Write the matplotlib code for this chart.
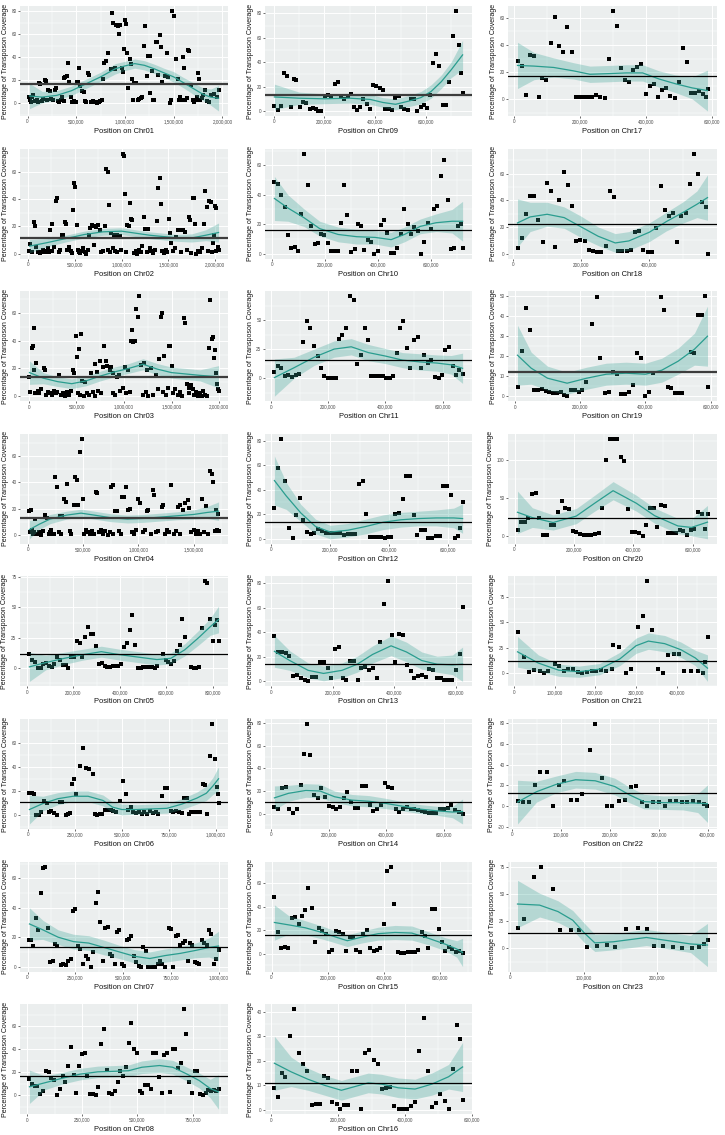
import numpy as np
import matplotlib.pyplot as plt
from matplotlib.ticker import FuncFormatter

plt.rcParams['font.family'] = ['Liberation Sans', 'DejaVu Sans']

# points are (position in kb, percentage of transposon coverage)
# smooth curves are (position in kb, fitted value, standard error band)

chr01_points = [(20, 6), (30, 3), (40, 1.5), (50, 6), (60, 7.5), (80, 2), (95, 3), (110, 1), (120, 18), (133, 17),
                (145, 2), (160, 4), (177, 20), (187, 19.5), (200, 3), (210, 12), (227, 11), (245, 4), (260, 3),
                (277, 12), (293, 13), (310, 2), (325, 1), (340, 3), (353, 6), (370, 2), (377, 22), (387, 23),
                (403, 24), (417, 35), (427, 19), (443, 6), (460, 1), (480, 2), (500, 1), (510, 19), (520, 19),
                (527, 31), (537, 15), (560, 11), (577, 10), (590, 2), (605, 1), (620, 26), (633, 25), (650, 1),
                (670, 2), (690, 1), (710, 0), (730, 1), (745, 2), (760, 3), (777, 21), (787, 35), (803, 37),
                (827, 44), (853, 30), (867, 78.5), (880, 70), (893, 30), (900, 31), (910, 68), (927, 67), (937, 60),
                (947, 68), (967, 31), (977, 27), (987, 47), (997, 72.5), (1010, 69), (1020, 44), (1033, 13),
                (1050, 38.5), (1060, 34), (1070, 21), (1080, 3), (1093, 18), (1110, 18), (1130, 3), (1145, 4),
                (1160, 5), (1175, 6), (1193, 50), (1210, 67), (1227, 24), (1233, 41.5), (1253, 41.5), (1260, 9),
                (1273, 28), (1285, 3), (1300, 3), (1320, 53), (1327, 53), (1343, 25), (1360, 59), (1370, 49),
                (1383, 19), (1410, 24), (1427, 44), (1437, 23), (1460, 0), (1470, 3), (1487, 80), (1500, 75.5),
                (1520, 38.5), (1543, 21), (1553, 3), (1567, 6), (1577, 3), (1593, 40), (1603, 31), (1617, 3),
                (1633, 4.5), (1650, 46), (1660, 45), (1677, 16), (1693, 3), (1710, 1.5), (1727, 3), (1743, 6),
                (1753, 26.7), (1760, 21), (1770, 3), (1787, 4.5), (1800, 7.5), (1820, 12), (1840, 2), (1860, 1),
                (1887, 7.5), (1910, 8), (1943, 6), (1960, 12)]
chr01_smooth = [(20, 6.5, 11), (150, 5.5, 5), (300, 7, 4), (450, 11, 4), (600, 17, 4), (750, 23, 4), (900, 30, 4.5),
                (1000, 32.5, 4), (1100, 34.5, 4), (1200, 33, 4), (1300, 30, 4), (1400, 26.5, 4), (1500, 23, 4.5),
                (1600, 18, 4.5), (1700, 13, 5), (1800, 8, 5.5), (1880, 5.5, 7), (1960, 4.5, 11)]

chr02_points = [(15, 2), (22, 7), (40, 1), (59, 23), (74, 20), (90, 5), (110, 1), (130, 0.5), (150, 1.5), (165, 3),
                (180, 1), (200, 2), (215, 4), (225, 1), (237, 17), (252, 22), (260, 2), (275, 5), (296, 39),
                (311, 41), (330, 1), (345, 2.5), (363, 14), (374, 14), (393, 23), (407, 22), (420, 3), (440, 5),
                (455, 2), (470, 0.5), (481, 32), (496, 52), (507, 49), (519, 21), (530, 3), (545, 1), (560, 0.5),
                (575, 2), (590, 4), (605, 1.5), (620, 0), (640, 2.5), (652, 14), (667, 19), (689, 21), (704, 20),
                (710, 6), (726, 19.5), (748, 21), (767, 17), (780, 1), (800, 2), (819, 20), (837, 62), (852, 60),
                (860, 3), (867, 36), (880, 1.5), (889, 15), (905, 4), (919, 14), (935, 2), (950, 1), (956, 14),
                (978, 13), (990, 3), (1011, 73.5), (1022, 72), (1037, 44), (1050, 1), (1063, 21), (1078, 20.5),
                (1093, 37.5), (1104, 25.5), (1115, 24.5), (1130, 0.5), (1150, 2), (1170, 0), (1190, 3), (1210, 1),
                (1222, 5.5), (1237, 27), (1252, 18), (1270, 1.5), (1281, 18), (1300, 4), (1320, 2), (1340, 0.5),
                (1360, 3), (1381, 24), (1393, 48.5), (1407, 55.5), (1419, 36.5), (1430, 2), (1450, 0.5), (1470, 3),
                (1490, 1), (1507, 25.5), (1519, 15), (1533, 8), (1550, 2), (1570, 4), (1585, 12), (1604, 17),
                (1622, 17), (1640, 1), (1659, 17), (1678, 16), (1700, 3), (1719, 27), (1733, 25), (1745, 0.5),
                (1759, 41), (1774, 41), (1789, 22), (1800, 0), (1820, 2), (1840, 1), (1860, 4), (1881, 22),
                (1896, 46), (1911, 34), (1920, 2), (1937, 39), (1956, 38), (1965, 1), (1974, 8), (1993, 14),
                (2000, 35), (2010, 2), (2015, 33.5), (2030, 5), (2037, 2.5)]
chr02_smooth = [(15, 5.5, 5), (200, 8, 3), (400, 11, 2.5), (600, 14, 2.5), (800, 16, 2.5), (1000, 16.5, 2.5),
                (1150, 15, 2.5), (1300, 13.5, 2.5), (1450, 12.5, 2.5), (1600, 11.5, 2.5), (1750, 11.5, 3),
                (1900, 13.5, 4), (2037, 15.5, 7)]

chr03_points = [(5, 14), (10, 3), (29, 35), (39, 36), (49, 19), (58, 49), (60, 2), (73, 24), (90, 4), (110, 2),
                (130, 5), (155, 20), (165, 19), (180, 1), (200, 3), (220, 2), (240, 1), (260, 4), (280, 2), (300, 3),
                (311, 15.5), (320, 15), (340, 1), (360, 2), (380, 0), (400, 3), (420, 1), (440, 4), (466, 19),
                (476, 17), (495, 43), (510, 28.5), (520, 2), (524, 34), (540, 1), (544, 44.5), (563, 11), (580, 0),
                (587, 10), (610, 2), (630, 1), (650, 17), (670, 3), (694, 23), (700, 0), (718, 17.5), (730, 4),
                (748, 25), (760, 2), (777, 21), (791, 36), (806, 25), (825, 22), (850, 19), (864, 21), (880, 2),
                (888, 17), (905, 1), (927, 14), (951, 15), (960, 4), (990, 6), (1010, 21), (1020, 2), (1039, 19),
                (1060, 3), (1073, 40), (1087, 48), (1097, 39), (1117, 40), (1131, 63), (1146, 57), (1155, 72),
                (1180, 22.5), (1200, 1), (1209, 24), (1230, 3), (1238, 19), (1250, 0.5), (1286, 20), (1300, 1),
                (1335, 15), (1360, 5), (1369, 26.5), (1388, 57), (1398, 60), (1410, 3), (1422, 29), (1440, 1),
                (1460, 6), (1471, 36.5), (1485, 36), (1505, 22), (1520, 2), (1540, 5), (1570, 1), (1590, 3),
                (1610, 0.5), (1631, 56), (1641, 53), (1660, 9), (1680, 2), (1689, 6), (1709, 8), (1728, 5.5),
                (1740, 1), (1760, 3), (1780, 0), (1800, 2), (1820, 0.5), (1835, 4), (1850, 1), (1870, 0), (1893, 35),
                (1908, 69), (1922, 41), (1932, 42.5), (1947, 27.5), (1961, 33), (1971, 16.5), (1981, 9),
                (1986, 5.5), (1995, 3.5)]
chr03_smooth = [(5, 17, 8.5), (150, 13, 4), (300, 10.5, 3.5), (450, 9, 3.5), (600, 11, 3.5), (750, 14.5, 3.5),
                (900, 17.5, 3.5), (1050, 20, 3.5), (1200, 23, 4), (1350, 19.5, 4), (1500, 17, 4), (1650, 16, 4),
                (1800, 15, 4), (1995, 14, 8)]

chr04_points = [(13, 18.5), (20, 2), (26, 19), (35, 4), (45, 1), (55, 2.5), (64, 12), (75, 0.5), (85, 1), (100, 2),
                (120, 0), (135, 3), (154, 15), (171, 13), (190, 1), (200, 2.5), (210, 4), (225, 0.5), (235, 1),
                (248, 44), (261, 36), (280, 2), (291, 14.5), (300, 1), (312, 14.5), (325, 27), (342, 25), (355, 39),
                (376, 3), (390, 1), (415, 23), (427, 44), (440, 42), (457, 23), (474, 63), (487, 73), (500, 27),
                (510, 1), (526, 4), (545, 2), (560, 1), (580, 3), (600, 0.5), (615, 32.5), (628, 32), (640, 2),
                (660, 4), (680, 1), (700, 3), (720, 0), (740, 2.5), (748, 36), (765, 38), (770, 1), (790, 18),
                (808, 18.5), (820, 3), (840, 1), (850, 28.5), (868, 29), (885, 36), (906, 19), (927, 19.5),
                (940, 2), (960, 1), (980, 3.5), (1000, 27), (1013, 24), (1040, 2), (1060, 4), (1073, 18.5),
                (1090, 19), (1110, 1), (1128, 34), (1141, 30.5), (1160, 2), (1180, 3), (1209, 21), (1222, 22.5),
                (1240, 1), (1260, 4), (1280, 2), (1299, 38), (1320, 1), (1340, 3), (1359, 21), (1372, 22.5),
                (1380, 0.5), (1402, 19), (1423, 24), (1444, 26.5), (1457, 20.5), (1480, 2), (1500, 4), (1520, 1),
                (1540, 3), (1560, 0.5), (1573, 27), (1590, 2), (1615, 22), (1630, 1), (1645, 48.5), (1667, 46),
                (1679, 40.5), (1690, 3), (1701, 19), (1709, 4), (1722, 16), (1725, 3)]
chr04_smooth = [(13, 4, 7), (100, 8, 4), (200, 12, 3.5), (350, 15, 3), (480, 16.5, 3), (600, 15, 3), (750, 13, 3),
                (900, 12, 3), (1050, 12.5, 3), (1200, 13.5, 3), (1350, 14.5, 3), (1500, 15.5, 3.5),
                (1620, 17, 4.5), (1725, 18, 7)]

chr05_points = [(10, 11.8), (22, 6.4), (34, 4.8), (46, 0), (58, 0), (70, 3.6), (82, 4.2), (94, 2), (106, 0.6),
                (118, 3.4), (130, 9.5), (142, 7), (154, 2.2), (166, 2.2), (178, 0.3), (190, 8.7), (202, 9.5),
                (214, 22.4), (226, 21), (238, 9), (250, 25.2), (262, 33.6), (274, 28.3), (286, 27.7), (298, 18.5),
                (310, 3.6), (322, 4.2), (334, 2), (346, 1.1), (358, 1.1), (370, 1.4), (382, 1.4), (394, 1.4),
                (406, 3.1), (418, 17.6), (430, 20.4), (442, 31.7), (454, 43.4), (466, 19.3), (478, 0.3), (490, 0.3),
                (502, 0.8), (514, 1.1), (526, 1.1), (538, 0.8), (550, 0.3), (562, 1.4), (586, 11.8), (598, 6.4),
                (610, 5), (622, 3.6), (634, 5.6), (646, 13.7), (658, 19), (670, 40.6), (682, 25.2), (706, 0.6),
                (718, 0), (730, 0), (742, 0.8), (754, 32.8), (766, 71.4), (778, 69.7), (790, 40.6), (802, 22.4),
                (810, 35.6), (820, 40), (826, 22)]
chr05_smooth = [(10, 1, 12), (80, 4.5, 6), (160, 8, 5), (240, 11, 4.5), (320, 13.5, 4.5), (400, 11, 4.5),
                (480, 9, 4.5), (560, 7, 4.5), (620, 8, 4.5), (680, 15, 5), (740, 25, 6), (790, 34, 7), (826, 40, 11)]

chr06_points = [(8, 18), (20, 18), (33, 17.6), (45, 0), (57, 0), (70, 2.8), (88, 11.5), (100, 9.8), (112, 2.2),
                (125, 3), (140, 1.7), (155, 0), (170, 10.4), (182, 10.4), (200, 0), (212, 0.8), (225, 1.4),
                (232, 25.5), (245, 30), (257, 17.6), (278, 40.6), (295, 55.5), (308, 39), (327, 37.8), (345, 33.6),
                (358, 0.8), (370, 0.3), (382, 0.6), (395, 0.8), (410, 4.5), (425, 4.5), (440, 4.5), (455, 3.1),
                (470, 2.8), (490, 11.2), (507, 28), (520, 17), (535, 4.2), (548, 7), (560, 2.2), (575, 1.7),
                (590, 2.5), (605, 0.8), (620, 2.2), (635, 0.8), (650, 3.6), (665, 2), (680, 2.8), (695, 0.8),
                (715, 15.7), (732, 22.7), (740, 22.7), (760, 3.6), (775, 2.8), (790, 3.6), (805, 2.2), (820, 1.7),
                (832, 14.3), (845, 14.3), (858, 0.8), (870, 2.2), (885, 2.5), (900, 2.8), (915, 2.8), (933, 26),
                (945, 25.2), (955, 0.8), (970, 48.5), (982, 75.4), (995, 46), (1005, 23.2), (1010, 17), (1015, 10)]
chr06_smooth = [(8, 4.5, 12), (80, 9.5, 6), (160, 13.5, 5), (240, 15.5, 4.5), (320, 15.5, 4.5), (400, 12, 4.5),
                (450, 6.5, 4.5), (500, 4.5, 4.5), (580, 4.5, 4), (660, 5, 4), (740, 5.5, 4), (820, 9, 4.5),
                (900, 14, 5), (950, 18, 6), (985, 24, 7), (1015, 30, 10)]

chr07_points = [(10, 18), (19, 18), (31, 14), (44, 33), (56, 25), (69, 50), (81, 67), (94, 68), (106, 26), (119, 3),
                (131, 3.5), (144, 15.5), (156, 14), (175, 1), (188, 2), (200, 1), (213, 4), (225, 5), (238, 38),
                (250, 39), (263, 14), (275, 12), (290, 2), (306, 7), (319, 5), (331, 0), (344, 10), (356, 43),
                (369, 51), (381, 30), (394, 4), (406, 26.5), (419, 27), (431, 8.5), (444, 7.5), (456, 2),
                (469, 23.5), (481, 25), (494, 2), (506, 0.5), (519, 18), (531, 18.5), (544, 21), (556, 7), (569, 3),
                (581, 0.5), (594, 0), (606, 13), (619, 10.5), (631, 0), (644, 0), (656, 0), (669, 0), (681, 1.5),
                (694, 4), (706, 2), (719, 0), (738, 26.5), (750, 25.5), (763, 0), (775, 21), (788, 21.5), (800, 15),
                (813, 16), (825, 17.5), (838, 3.5), (850, 16), (863, 15), (875, 3), (888, 2.5), (900, 1.5),
                (913, 18), (925, 16), (938, 15), (950, 25), (963, 22), (975, 1.5), (988, 5), (1000, 11)]
chr07_smooth = [(10, 29, 11), (80, 25, 6.5), (160, 20, 5), (240, 17, 5), (320, 16, 5), (400, 13, 5), (480, 10, 4.5),
                (560, 7, 4.5), (640, 5.5, 4.5), (720, 7.5, 4.5), (800, 9, 4.5), (880, 11, 5), (950, 13, 6.5),
                (1000, 14, 10)]

chr08_points = [(10, 14), (22, 10), (35, 8), (45, 8.5), (60, 1.5), (72, 3.5), (85, 21), (98, 20), (110, 15),
                (122, 13), (135, 0), (148, 6), (160, 17), (172, 12), (185, 26), (197, 42), (210, 17.5), (222, 2.5),
                (235, 26), (247, 36), (260, 37), (272, 17), (285, 1.5), (297, 1.5), (310, 0), (322, 7), (335, 44.5),
                (347, 58), (360, 22.5), (372, 2.5), (385, 1), (397, 4), (410, 12), (422, 21), (435, 16.5),
                (447, 24.5), (460, 46), (472, 63), (485, 40.5), (497, 37), (510, 3.5), (522, 2.5), (535, 9),
                (547, 9), (560, 6), (572, 37), (585, 37), (597, 16), (610, 2.5), (622, 35), (635, 37), (647, 3),
                (660, 40), (672, 40), (685, 24), (697, 28), (710, 75), (722, 53.5), (735, 12), (747, 2), (760, 21),
                (772, 21), (785, 1), (797, 0.5), (810, 2.5), (822, 4.5), (835, 3.5), (847, 4.5), (858, 4), (868, 6)]
chr08_smooth = [(10, 7.5, 14.5), (80, 11, 6), (160, 15, 5), (240, 18.5, 5), (320, 20.5, 5), (400, 21, 5),
                (460, 21.5, 5), (520, 24.5, 5.5), (600, 26, 6), (660, 24.5, 6), (720, 19, 6), (780, 13, 6.5),
                (830, 6, 8), (868, 3, 15)]

chr09_points = [(3, 4), (16, 1), (29, 4.5), (41, 31), (54, 29), (67, 3.5), (79, 26), (89, 25.5), (105, 3), (115, 7),
                (129, 6.5), (142, 1.5), (154, 2.5), (165, 1.5), (176, 0), (188, 0), (202, 12), (214, 13),
                (227, 11.5), (240, 22), (253, 23.5), (265, 11.5), (277, 10), (291, 12), (304, 14), (318, 3.5),
                (328, 1), (341, 3.5), (353, 10), (366, 6), (379, 1.5), (391, 21), (404, 20.5), (417, 19), (429, 17),
                (440, 1.5), (453, 1.5), (466, 0.5), (479, 10.5), (492, 12.5), (503, 3.5), (514, 1.5), (528, 1),
                (541, 9.5), (554, 10), (566, 0), (579, 3.5), (591, 5), (604, 2.5), (614, 13.5), (627, 39.5),
                (640, 46.5), (653, 37), (667, 5), (680, 5), (692, 24), (705, 61.5), (717, 82), (730, 54),
                (739, 31.5), (744, 14.5)]
chr09_smooth = [(3, 11.5, 10.5), (100, 10.5, 5), (200, 10, 4), (300, 10.5, 4), (380, 9.5, 4), (430, 7, 4),
                (480, 5.5, 4.5), (530, 8, 4.5), (580, 11, 5), (620, 16, 5.5), (660, 24, 5.5), (700, 34, 6.5),
                (744, 46, 12)]

chr10_points = [(9, 49), (21, 47.5), (35, 40), (48, 32), (60, 12.5), (73, 4), (86, 4.5), (98, 2), (109, 27),
                (122, 68), (136, 46.5), (148, 18.5), (161, 6.5), (174, 7), (185, 13), (197, 12.5), (211, 7),
                (223, 2), (236, 1.5), (249, 1.5), (260, 20.5), (273, 46.5), (285, 26), (299, 1), (312, 3), (323, 20),
                (336, 18.5), (348, 2.5), (361, 9.5), (373, 8), (386, 0), (399, 1.5), (411, 19.5), (424, 23),
                (436, 14), (449, 0.5), (462, 0.5), (474, 4), (487, 13.5), (499, 30), (512, 20), (525, 13.5),
                (538, 18), (550, 15.5), (562, 0), (575, 8), (588, 20.5), (600, 17), (613, 30), (625, 32.5),
                (638, 53), (651, 63.5), (663, 36.5), (676, 3), (688, 3.5), (701, 18.5), (713, 20), (720, 4)]
chr10_smooth = [(9, 37.5, 15), (60, 31, 9), (120, 24.5, 6), (180, 17, 5), (250, 13, 5), (320, 11.5, 5),
                (390, 11, 4.5), (450, 9.5, 5), (500, 13, 5), (560, 18.5, 5), (620, 21, 6), (680, 22, 8),
                (720, 22, 13.5)]

chr11_points = [(11, 5.5), (24, 10.5), (34, 9), (47, 2), (60, 3), (73, 1), (86, 2.5), (97, 4), (111, 31.5),
                (124, 49.5), (136, 43), (149, 28), (162, 19.5), (173, 9), (186, 2), (199, 0), (212, 0.5),
                (225, 0.5), (236, 33.5), (249, 37), (262, 43), (275, 70.5), (288, 67.5), (301, 12.5), (314, 20),
                (327, 43.5), (340, 33), (351, 2), (364, 2), (377, 1.5), (390, 1.5), (403, 0.5), (416, 0.5),
                (427, 1.5), (440, 22), (452, 43.5), (461, 49.5), (474, 26), (486, 8.5), (499, 33), (513, 35.5),
                (525, 8.5), (536, 20), (549, 13), (560, 15.5), (573, 1), (586, 0), (599, 2.5), (610, 24.5),
                (623, 26.5), (635, 10.5), (648, 3), (659, 7), (670, 4)]
chr11_smooth = [(11, 0.5, 16), (80, 9, 9), (150, 18, 7), (220, 25, 7), (280, 27, 7), (340, 22, 7), (400, 19, 6.5),
                (460, 15.5, 6.5), (520, 14, 7), (580, 13, 7), (630, 11.5, 8), (670, 8.5, 13)]

chr12_points = [(10, 25), (23, 57.5), (34, 81.5), (46, 47.5), (59, 9), (72, 1), (84, 19.5), (97, 33), (108, 15),
                (120, 5.5), (133, 4), (146, 4.5), (158, 8), (171, 6.5), (184, 4.5), (196, 4.5), (209, 4.5),
                (222, 5), (234, 4.5), (247, 3.5), (260, 4), (272, 4), (285, 4), (297, 44.5), (310, 47.5), (323, 20),
                (335, 1.5), (348, 1.5), (361, 1.5), (373, 1.5), (386, 1), (398, 1.5), (408, 1.5), (421, 20),
                (433, 21), (446, 32.5), (459, 51.5), (471, 51.5), (484, 19.5), (496, 3.5), (509, 7.5), (522, 7.5),
                (534, 0.5), (547, 0.5), (559, 2.5), (572, 2.5), (585, 43), (597, 43), (610, 36), (623, 1), (635, 2),
                (642, 9), (650, 29.7)]
chr12_smooth = [(10, 47.5, 20), (50, 35, 11), (100, 21, 7), (150, 10, 6), (200, 5.5, 5.5), (260, 7, 5.5),
                (320, 10, 6), (380, 13.5, 6), (440, 15.5, 6), (500, 16.5, 6), (560, 17, 6.5), (620, 17, 8),
                (650, 16.5, 12)]

chr13_points = [(10, 37), (22, 24), (35, 24), (47, 23), (59, 20.5), (72, 4), (84, 5.5), (96, 3), (109, 1.5),
                (121, 0), (133, 3.5), (146, 3.5), (158, 16), (170, 16), (183, 11), (195, 2.5), (207, 26), (220, 28),
                (232, 3), (244, 1), (256, 17), (269, 17), (281, 1), (293, 11), (306, 11.5), (318, 9), (330, 11),
                (343, 2.5), (355, 32), (367, 63), (380, 81.5), (392, 38), (404, 16), (417, 39), (429, 37.5),
                (441, 13.5), (454, 8.5), (466, 2.5), (478, 4), (490, 5.5), (503, 3.5), (515, 10), (527, 9.5),
                (540, 3), (552, 3), (564, 1), (577, 1.5), (589, 1.5), (601, 9.5), (614, 22), (623, 61)]
chr13_smooth = [(10, 24.5, 13), (60, 17, 8), (120, 9, 6), (170, 6.5, 6), (230, 9, 6), (280, 14, 6.5), (330, 22, 7),
                (390, 29, 8), (440, 24, 8), (490, 17, 7), (540, 14, 6.5), (590, 13.5, 8), (623, 14, 14)]

chr14_points = [(11, 6.4), (24, 4.6), (37, 22.3), (50, 24), (63, 4), (76, 1), (89, 4), (102, 25), (115, 53),
                (124, 79), (135, 52), (148, 16.8), (161, 14), (174, 23), (187, 14.7), (200, 7), (213, 6.4),
                (226, 4.6), (239, 6.4), (252, 14), (265, 19.3), (277, 10), (290, 5), (303, 5), (316, 24.8),
                (329, 24.8), (342, 7.6), (355, 2.5), (368, 4.6), (381, 7.6), (394, 27.5), (406, 24), (419, 23),
                (432, 4.6), (445, 1.5), (458, 4.6), (471, 6.4), (484, 4.6), (497, 4), (510, 3.4), (523, 2.8),
                (535, 1.5), (548, 1), (561, 1), (574, 1), (587, 4), (600, 4.6), (613, 5.5), (626, 7.6), (639, 3),
                (652, 1.8), (665, 0)]
chr14_smooth = [(11, 14, 10.5), (60, 18, 7), (120, 20.5, 6), (170, 20, 6), (220, 15, 5), (280, 12, 5), (340, 11, 5),
                (400, 9, 4.5), (460, 6.5, 4), (520, 4, 4), (580, 2.5, 4), (630, 1.5, 5), (665, 2, 11)]

chr15_points = [(10, 48), (22, 18), (34, 5), (46, 5.5), (58, 4.5), (72, 30), (84, 31), (96, 25), (108, 32),
                (120, 37), (131, 56), (143, 39), (156, 10), (168, 22), (180, 19), (193, 17), (205, 1), (217, 3),
                (229, 19), (241, 18), (253, 17), (266, 2), (278, 14), (290, 14), (302, 3), (315, 1.5), (327, 17),
                (339, 20), (351, 5), (364, 2), (376, 3), (388, 4.5), (400, 25), (412, 70), (424, 74), (437, 42),
                (449, 1), (461, 0.5), (473, 0.5), (486, 1), (498, 1), (510, 1), (522, 3), (535, 18), (547, 15),
                (559, 4.5), (571, 38), (584, 38), (596, 21), (608, 10), (620, 2), (633, 6), (645, 4), (657, 1.5),
                (669, 2), (681, 0.5)]
chr15_smooth = [(10, 26.5, 15), (60, 24.5, 8), (120, 22, 6), (180, 18, 5.5), (230, 14, 5), (270, 11, 5),
                (320, 14, 5), (380, 17, 5.5), (440, 18, 6), (500, 17.5, 6), (560, 13, 5.5), (620, 8, 5.5),
                (660, 4, 7), (681, 1, 12)]

chr16_points = [(10, 9), (21, 5.4), (32, 15), (43, 13.5), (58, 30), (69, 41), (82, 23.3), (94, 18.7), (107, 16),
                (121, 2), (135, 2.5), (146, 2.5), (158, 14), (171, 13.2), (183, 3.4), (196, 2.4), (207, 0.3),
                (218, 2), (231, 2), (243, 16), (256, 16), (268, 0.3), (281, 23.2), (293, 24.2), (306, 20.4),
                (318, 18.6), (331, 8.6), (343, 8.9), (356, 9.2), (368, 1.7), (381, 0.3), (393, 0.3), (406, 0.3),
                (418, 1.4), (431, 3.1), (443, 24), (456, 37.3), (468, 16), (481, 1), (493, 2.8), (506, 6.6),
                (518, 3.8), (531, 0.3), (543, 16.6), (554, 34.5), (563, 28.9), (572, 4.2)]
chr16_smooth = [(10, 19, 11), (60, 15.5, 6), (110, 12.5, 4.5), (160, 10, 4), (210, 8, 4), (250, 9.5, 4),
                (290, 11, 4), (330, 10.5, 4), (380, 9, 4), (430, 8.5, 4), (480, 10.5, 4.5), (530, 13.5, 5),
                (572, 17.5, 10)]

chr17_points = [(10, 28), (23, 24.5), (36, 3), (48, 33), (59, 32), (74, 1.5), (85, 15.5), (98, 14), (111, 41.5),
                (123, 60.5), (135, 39.5), (149, 34.5), (161, 53), (174, 34.5), (187, 2), (199, 1.5), (211, 1.5),
                (223, 1.5), (237, 1.5), (249, 3), (261, 2), (275, 1), (287, 30), (299, 65), (312, 54), (324, 23),
                (336, 14.5), (350, 13), (362, 22), (374, 24), (386, 26), (400, 4), (412, 10), (424, 11), (437, 2),
                (449, 7), (461, 8.5), (474, 2.5), (487, 1), (499, 12.5), (512, 37.5), (524, 27.5), (536, 5),
                (549, 5), (562, 6), (573, 4), (582, 2), (587, 7.5)]
chr17_smooth = [(10, 25, 17), (60, 24.5, 10), (120, 23.5, 7), (180, 21, 6), (230, 18.5, 6), (290, 19, 6),
                (340, 19.5, 6), (390, 19.5, 6), (440, 15, 6), (490, 11.5, 6.5), (540, 8.5, 8), (587, 6.5, 15)]

chr18_points = [(13, 4), (25, 12), (37, 29.5), (50, 43), (62, 43.5), (74, 25), (87, 9), (99, 53), (111, 47),
                (124, 5), (136, 40), (149, 61), (161, 51.5), (172, 35.5), (185, 9.5), (198, 10), (210, 9.5),
                (223, 2.5), (235, 2), (247, 1.5), (259, 1.5), (272, 5.5), (285, 47), (297, 42.5), (309, 2),
                (321, 2), (334, 2), (346, 3), (359, 16.5), (370, 17), (383, 3), (395, 1), (408, 1.5), (420, 19.5),
                (433, 50.5), (445, 33), (458, 28.5), (469, 30.5), (482, 9), (494, 28), (507, 30.5), (520, 52.5),
                (531, 75), (543, 60), (556, 39), (566, 35), (571, 0)]
chr18_smooth = [(13, 23, 18), (50, 27.5, 11), (100, 29.5, 9), (150, 27, 8), (200, 20, 8), (250, 13, 7),
                (300, 8, 7), (340, 9.5, 7), (400, 16, 7), (450, 24, 7), (500, 31, 8), (540, 37, 10), (571, 42, 17)]

chr19_points = [(8, 4.5), (22, 22.5), (35, 44), (47, 33), (58, 3), (70, 3), (82, 3.7), (94, 2.7), (105, 2),
                (117, 1.5), (128, 1.8), (140, 2), (150, 0.5), (160, 0), (172, 3), (184, 3), (195, 2.3), (207, 3),
                (218, 7), (235, 36), (250, 49.6), (262, 19), (275, 1.5), (287, 2), (300, 12), (312, 11.3), (325, 1),
                (337, 1.2), (350, 2.3), (362, 5.7), (375, 21.5), (387, 19), (398, 0), (410, 2), (422, 11.5),
                (447, 49.6), (458, 43.3), (468, 4.6), (478, 3.9), (490, 1.6), (500, 1.6), (512, 1.6), (540, 22.3),
                (550, 21.4), (560, 40.5), (572, 40.5), (583, 50), (590, 4.5)]
chr19_smooth = [(8, 20.5, 15), (50, 14, 8), (100, 9, 6), (160, 6.5, 5.5), (220, 9, 5.5), (280, 11, 5.5),
                (340, 11.5, 5.5), (400, 11, 5.5), (450, 13, 6), (500, 17.5, 6.5), (550, 23.5, 8), (590, 30, 15)]

chr20_points = [(10, 8), (22, 18), (35, 18), (47, 24), (60, 55.5), (72, 57), (84, 24), (97, 1), (109, 1),
                (122, 14.5), (134, 14.5), (146, 31.5), (159, 46), (171, 37), (184, 35), (196, 6.5), (208, 4.5),
                (221, 2.5), (233, 1), (246, 1), (258, 1), (270, 2.5), (283, 4), (295, 36), (308, 100), (320, 128),
                (332, 128), (345, 128), (357, 104), (370, 99), (382, 35), (394, 4.5), (407, 4.5), (419, 3.5),
                (432, 0), (444, 14.5), (456, 36), (469, 36), (481, 12), (494, 41), (506, 39.5), (518, 4), (531, 4),
                (543, 4), (556, 7), (568, 6), (580, 1), (593, 7), (605, 8.5), (618, 31.5), (630, 29), (642, 9.5),
                (650, 29)]
chr20_smooth = [(10, 31, 28), (60, 24, 13), (130, 17.5, 10), (208, 26, 10), (270, 43, 10.5), (332, 59.5, 12),
                (410, 43, 10.5), (472, 26.5, 10), (550, 13, 10), (596, 11, 11), (650, 18, 22)]

chr21_points = [(9, 40), (24, 16), (38, 1), (49, 3), (63, 2.5), (74, 0), (85, 2.5), (100, 9), (111, 7), (123, 2.5),
                (134, 4.3), (145, 4), (157, 1), (168, 0), (180, 1), (191, 2.5), (202, 2.5), (214, 3.2), (225, 2.5),
                (240, 4), (244, 27.5), (259, 25.7), (276, 0.7), (288, 4.3), (305, 45), (316, 56), (327, 90),
                (339, 42), (353, 4.6), (367, 0), (378, 18), (392, 18.6), (406, 19.3), (418, 2.5), (435, 2.5),
                (452, 1.8), (464, 0.7), (469, 10.7), (475, 35.7)]
chr21_smooth = [(9, 21, 15), (60, 10, 8), (110, 3, 6), (160, 1.5, 5.5), (210, 4, 5.5), (260, 14, 6.5),
                (300, 27, 7.5), (330, 31.5, 8), (370, 29, 8), (410, 23, 7.5), (445, 15, 7.5), (475, 5, 13)]

chr22_points = [(11, 5.5), (22, 4), (35, 4), (47, 20.6), (58, 33.3), (71, 33.3), (84, 0.7), (95, 20.6), (107, 24.5),
                (120, 6.5), (132, 5.9), (144, 11.4), (160, 54), (170, 79), (183, 27), (194, 0), (205, 0.7),
                (218, 4.9), (231, 5.9), (243, 18.6), (253, 19.6), (265, 3.9), (277, 0), (288, 3.9), (300, 3.9),
                (312, 0.7), (323, 4.9), (335, 4.9), (347, 3.9), (358, 3.9), (370, 4.9), (382, 3.9), (393, 2.6),
                (399, 0.7)]
chr22_smooth = [(11, 4, 21), (50, 14, 10), (90, 21, 8), (130, 25.5, 8), (170, 24.5, 8), (210, 19, 8),
                (240, 11, 7.5), (270, 4.5, 7), (310, 3.5, 6.5), (350, 3.5, 7), (380, 3, 9), (400, 2.5, 18)]

chr23_points = [(10, 19), (19, 27), (33, 66.5), (42, 75.7), (58, 55), (68, 16.7), (82, 17.3), (93, 16.7), (104, 1.6),
                (118, 1.9), (132, 3.2), (142, 1.6), (157, 17.7), (173, 19.2), (186, 17.7), (195, 1.9), (208, 2.5),
                (221, 0.9), (234, 0.6), (247, 0.6), (257, 1.6), (263, 4.1), (268, 7.3)]
chr23_smooth = [(10, 41, 22), (40, 40, 11), (65, 34, 10), (85, 26, 9), (101, 14, 9), (115, 5, 8), (140, 6, 7.5),
                (185, 10, 7.5), (215, 7, 7.5), (245, 4, 8), (268, 3, 20)]

# mean coverage per chromosome (horizontal reference line)
mean_cov = {'Chr01': 17, 'Chr02': 11.8, 'Chr03': 13.5, 'Chr04': 12.5, 'Chr05': 11.8, 'Chr06': 10.4,
            'Chr07': 13, 'Chr08': 16.5, 'Chr09': 13, 'Chr10': 16, 'Chr11': 15.4, 'Chr12': 14, 'Chr13': 14,
            'Chr14': 10.7, 'Chr15': 15.5, 'Chr16': 11, 'Chr17': 17, 'Chr18': 22.3, 'Chr19': 12, 'Chr20': 24,
            'Chr21': 11.8, 'Chr22': 12.4, 'Chr23': 14.2}

panels = [('Chr01', chr01_points, chr01_smooth), ('Chr02', chr02_points, chr02_smooth),
          ('Chr03', chr03_points, chr03_smooth), ('Chr04', chr04_points, chr04_smooth),
          ('Chr05', chr05_points, chr05_smooth), ('Chr06', chr06_points, chr06_smooth),
          ('Chr07', chr07_points, chr07_smooth), ('Chr08', chr08_points, chr08_smooth),
          ('Chr09', chr09_points, chr09_smooth), ('Chr10', chr10_points, chr10_smooth),
          ('Chr11', chr11_points, chr11_smooth), ('Chr12', chr12_points, chr12_smooth),
          ('Chr13', chr13_points, chr13_smooth), ('Chr14', chr14_points, chr14_smooth),
          ('Chr15', chr15_points, chr15_smooth), ('Chr16', chr16_points, chr16_smooth),
          ('Chr17', chr17_points, chr17_smooth), ('Chr18', chr18_points, chr18_smooth),
          ('Chr19', chr19_points, chr19_smooth), ('Chr20', chr20_points, chr20_smooth),
          ('Chr21', chr21_points, chr21_smooth), ('Chr22', chr22_points, chr22_smooth),
          ('Chr23', chr23_points, chr23_smooth)]

# axis break spacing (x in bp, y in percent)
x_step = {'Chr01': 500000, 'Chr02': 500000, 'Chr03': 500000, 'Chr04': 500000, 'Chr05': 200000,
          'Chr06': 250000, 'Chr07': 250000, 'Chr08': 250000, 'Chr21': 100000, 'Chr22': 100000,
          'Chr23': 100000}
y_step = {'Chr05': 25, 'Chr11': 25, 'Chr16': 10, 'Chr19': 10, 'Chr20': 50, 'Chr21': 25, 'Chr23': 25}
thick_mean = ['Chr01', 'Chr02', 'Chr03', 'Chr04', 'Chr09', 'Chr19']

W, H = 725, 1135
fig = plt.figure(figsize=(W / 100, H / 100), dpi=100)

col_edges = [(20, 228), (265, 472), (508, 717)]
row_h = 142.6


def breaks(lo, hi, step):
    major = np.arange(np.ceil(lo / step) * step, hi + 1e-9, step)
    minor = np.arange(np.ceil((lo - step / 2) / step) * step - step / 2, hi + 1e-9, step)
    minor = minor[(minor >= lo) & (minor <= hi)]
    return major, minor


for i, (name, pts, smooth) in enumerate(panels):
    col, row = i // 8, i % 8
    left, right = col_edges[col]
    top = 6 + row * row_h
    bottom = 116 + row * row_h
    ax = fig.add_axes([left / W, 1 - bottom / H, (right - left) / W, (bottom - top) / H])

    px = np.array([p[0] for p in pts]) * 1000
    py = np.array([p[1] for p in pts])
    sx = np.array([s[0] for s in smooth]) * 1000
    sy = np.array([s[1] for s in smooth])
    se = np.array([s[2] for s in smooth])

    ax.set_facecolor('#EBEEEE')
    ax.scatter(px, py, s=6.5, marker='s', color='black', linewidths=0, zorder=2)
    ax.fill_between(sx, sy - se, sy + se, color='#3AA597', alpha=0.3, linewidth=0, zorder=3)
    ax.plot(sx, sy, color='#2A9D8F', lw=0.9, zorder=4)
    if name in thick_mean:
        ax.axhline(mean_cov[name], color='#3d3d3d', lw=1.6, zorder=5)
    else:
        ax.axhline(mean_cov[name], color='black', lw=0.9, zorder=5)

    # ggplot-like 5% expansion
    xs = np.concatenate([px, sx])
    ys = np.concatenate([py, sy - se, sy + se, [mean_cov[name]]])
    xpad = (xs.max() - xs.min()) * 0.05
    ypad = (ys.max() - ys.min()) * 0.05
    xlo, xhi = xs.min() - xpad, xs.max() + xpad
    ylo, yhi = ys.min() - ypad, ys.max() + ypad
    ax.set_xlim(xlo, xhi)
    ax.set_ylim(ylo, yhi)

    xmaj, xmin_ = breaks(xlo, xhi, x_step.get(name, 200000))
    ymaj, ymin_ = breaks(ylo, yhi, y_step.get(name, 20))
    ax.set_xticks(xmaj)
    ax.set_xticks(xmin_, minor=True)
    ax.set_yticks(ymaj)
    ax.set_yticks(ymin_, minor=True)
    ax.xaxis.set_major_formatter(FuncFormatter(lambda v, p: f'{int(round(v)):,}'))
    ax.yaxis.set_major_formatter(FuncFormatter(lambda v, p: f'{int(round(v))}'))

    ax.grid(which='major', color='white', lw=0.7)
    ax.grid(which='minor', color='white', lw=0.35)
    ax.set_axisbelow(True)
    for sp in ax.spines.values():
        sp.set_visible(False)
    ax.tick_params(which='major', length=1.5, width=0.5, color='#333333', labelsize=3.3,
                   labelcolor='#4d4d4d', pad=1)
    ax.tick_params(which='minor', length=0)

    ax.set_xlabel(f'Position on {name}', fontsize=5.4, labelpad=2.5, color='#111111')
    ax.set_ylabel('Percentage of Transposon Coverage', fontsize=5.0, labelpad=2, color='#111111')

fig.savefig('out.png', dpi=100)
